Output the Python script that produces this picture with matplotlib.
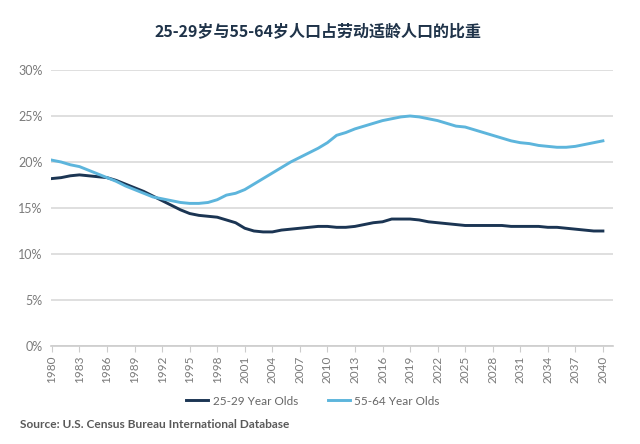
import matplotlib
matplotlib.use("Agg")
import matplotlib.pyplot as plt
import numpy as np

plt.rcParams['font.family'] = ['Lato', 'Noto Sans CJK SC', 'DejaVu Sans']

years = list(range(1980, 2041))

age_25_29 = [18.2, 18.3, 18.5, 18.6, 18.5, 18.4, 18.3, 18.0, 17.6, 17.2,
             16.8, 16.3, 15.8, 15.3, 14.8, 14.4, 14.2, 14.1, 14.0, 13.7,
             13.4, 12.8, 12.5, 12.4, 12.4, 12.6, 12.7, 12.8, 12.9, 13.0,
             13.0, 12.9, 12.9, 13.0, 13.2, 13.4, 13.5, 13.8, 13.8, 13.8,
             13.7, 13.5, 13.4, 13.3, 13.2, 13.1, 13.1, 13.1, 13.1, 13.1,
             13.0, 13.0, 13.0, 13.0, 12.9, 12.9, 12.8, 12.7, 12.6, 12.5,
             12.5]

age_55_64 = [20.2, 20.0, 19.7, 19.5, 19.1, 18.7, 18.3, 17.9, 17.4, 17.0,
             16.6, 16.2, 16.0, 15.8, 15.6, 15.5, 15.5, 15.6, 15.9, 16.4,
             16.6, 17.0, 17.6, 18.2, 18.8, 19.4, 20.0, 20.5, 21.0, 21.5,
             22.1, 22.9, 23.2, 23.6, 23.9, 24.2, 24.5, 24.7, 24.9, 25.0,
             24.9, 24.7, 24.5, 24.2, 23.9, 23.8, 23.5, 23.2, 22.9, 22.6,
             22.3, 22.1, 22.0, 21.8, 21.7, 21.6, 21.6, 21.7, 21.9, 22.1,
             22.3]

series_labels = ['25-29 Year Olds', '55-64 Year Olds']
title = '25-29岁与55-64岁人口占劳动适龄人口的比重'
source = 'Source: U.S. Census Bureau International Database'

dark = '#1b3553'
light = '#5db5dc'
grey = '#7a7a7a'

fig = plt.figure(figsize=(6.4, 4.44), dpi=100)
ax = fig.add_axes([51/640, 1 - 346/444, (613 - 51)/640, (346 - 70)/444])

ax.plot(years, age_25_29, color=dark, lw=2.1, label=series_labels[0])
ax.plot(years, age_55_64, color=light, lw=2.1, label=series_labels[1])

ax.set_xlim(1979.9, 2041.1)
ax.set_ylim(0, 30)
ax.set_yticks(np.arange(0, 31, 5))
ax.set_yticklabels([f'{v}%' for v in range(0, 31, 5)])
ax.set_xticks(years[::3])
ax.set_xticklabels([str(y) for y in years[::3]], rotation=90)

ax.grid(axis='y', color='#d9d9d9', lw=1.2)
ax.set_axisbelow(True)
for s in ['top', 'right', 'left']:
    ax.spines[s].set_visible(False)
ax.spines['bottom'].set_color('#cccccc')
ax.spines['bottom'].set_linewidth(1.2)
ax.tick_params(axis='y', length=0, pad=6, labelsize=9, labelcolor=grey)
ax.tick_params(axis='x', length=4, color='#cccccc', labelsize=8.5,
               labelcolor=grey, pad=3)

fig.text(318/640, 1 - 32/444, title, ha='center', va='center', fontsize=11.5,
         fontweight='bold', color='#1f3349',
         family=['Noto Sans CJK SC', 'DejaVu Sans'])

fig.legend(loc='center', bbox_to_anchor=(313/640, 1 - 401/444), ncol=2,
           frameon=False, fontsize=8.5, labelcolor='#666666',
           handlelength=1.85, handletextpad=0.4, columnspacing=2.5)

fig.text(20/640, 1 - 424/444, source, ha='left', va='center', fontsize=8.6,
         fontweight='bold', color='#595959')

fig.savefig('out.png', dpi=100)
